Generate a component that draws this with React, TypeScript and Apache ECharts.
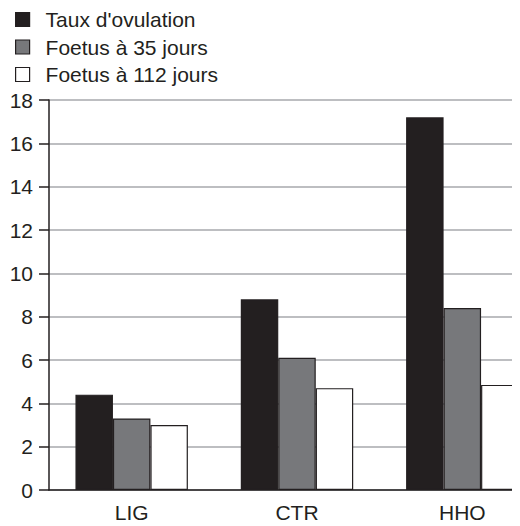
import React, { useEffect, useRef } from "react";
import * as echarts from "echarts";

const categories = ["LIG", "CTR", "HHO"];
const seriesNames = ["Taux d'ovulation", "Foetus à 35 jours", "Foetus à 112 jours"];
const ovulation = [4.4, 8.8, 17.2];
const foetus35 = [3.3, 6.1, 8.4];
const foetus112 = [3.0, 4.7, 4.85];
const yTicks = [0, 2, 4, 6, 8, 10, 12, 14, 16, 18];

const FONT = "'Liberation Sans', Arial, sans-serif";
const INK = "#231f20";
const fills = ["#231f20", "#77787b", "#ffffff"];

export default function App() {
  const ref = useRef<HTMLDivElement>(null);
  useEffect(() => {
    if (!ref.current) return;
    const chart = echarts.init(ref.current, undefined, { renderer: "svg" });
    const values = [ovulation, foetus35, foetus112];
    chart.setOption({
      animation: false,
      backgroundColor: "#ffffff",
      textStyle: { fontFamily: FONT },
      legend: {
        orient: "vertical",
        left: 2,
        top: -4,
        itemWidth: 14,
        itemHeight: 14,
        itemGap: 6.5,
        icon: "rect",
        selectedMode: false,
        textStyle: {
          fontFamily: FONT,
          fontSize: 21,
          color: INK,
          lineHeight: 20,
          padding: [0, 0, 0, 11],
        },
        data: seriesNames.map((n, i) => ({
          name: n,
          itemStyle: { color: fills[i], borderColor: INK, borderWidth: 1.2 },
        })),
      },
      grid: { left: 41, top: 92, width: 496, height: 390, outerBoundsMode: "none", containLabel: false },
      xAxis: {
        type: "category",
        data: categories,
        axisLine: { lineStyle: { color: INK, width: 1.5 } },
        axisTick: { show: false },
        axisLabel: { fontFamily: FONT, fontSize: 21, color: INK, margin: 12 },
      },
      yAxis: {
        type: "value",
        min: 0,
        max: 18,
        interval: 2,
        axisLine: { show: true, lineStyle: { color: INK, width: 1.5 } },
        axisTick: { show: true, length: 10, lineStyle: { color: INK, width: 1.5 } },
        axisLabel: {
          fontFamily: FONT,
          fontSize: 21,
          color: INK,
          margin: 16,
          formatter: (v: number) => (yTicks.includes(v) ? String(v) : ""),
        },
        splitLine: { show: true, lineStyle: { color: "#a7a9ac", width: 1.5 } },
      },
      series: seriesNames.map((n, i) => ({
        name: n,
        type: "bar",
        data: values[i],
        barGap: "0%",
        barCategoryGap: "32%",
        itemStyle: { color: fills[i], borderColor: INK, borderWidth: 1.2 },
      })),
    });
    return () => chart.dispose();
  }, []);
  return <div ref={ref} style={{ width: 512, height: 518 }} />;
}
